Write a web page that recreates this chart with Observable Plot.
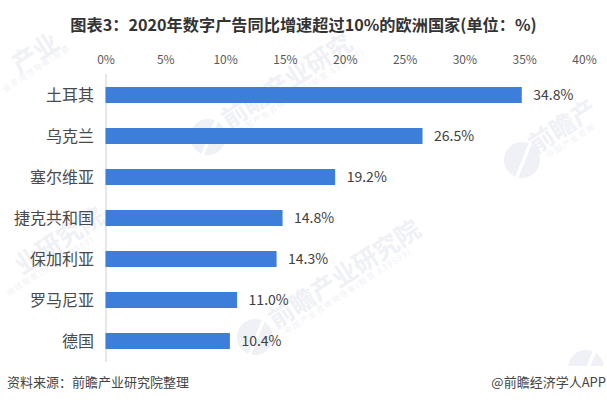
<!DOCTYPE html>
<html><head><meta charset="utf-8">
<script src="https://cdn.jsdelivr.net/npm/d3@7"></script>
<script src="https://cdn.jsdelivr.net/npm/@observablehq/plot@0.6"></script>
<style>
html,body{margin:0;padding:0;background:#fff}
#page{position:relative;width:607px;height:403px;overflow:hidden;font-family:"Noto Sans CJK SC",sans-serif}
#title{position:absolute;left:0;top:13px;width:607px;text-align:center;font-size:16.2px;line-height:22px;font-weight:700;color:#333;white-space:nowrap}
#chart{position:absolute;left:0;top:40px}
#band{position:absolute;left:0;top:366px;width:607px;height:37px;background:#fff}
#source,#brand{position:absolute;top:373px;font-size:13px;line-height:18px;color:#444}
#source{left:7px}
#brand{right:1px}
.wm,.wms{position:absolute;transform:rotate(-33deg);transform-origin:left center;white-space:nowrap}
.wm{font-size:25px;line-height:26px;font-weight:700;color:#eff1f6}
.wms{font-size:8px;line-height:10px;letter-spacing:1.4px;color:#f0f2f6}
.logo{position:absolute;width:36px;height:36px;border-radius:50%;background:linear-gradient(112deg,#eff1f6 50%,#fff 50%,#fff 57%,#eff1f6 57%)}
svg{position:relative;background:transparent!important}
</style></head><body>
<div id="page">
<div class="logo" style="left:237px;top:319px"></div>
<div class="logo" style="left:504px;top:142px"></div>
<div class="logo" style="left:190px;top:119px"></div>
<div class="logo" style="left:568px;top:350px"></div>
<div class="wm" style="left:270px;top:307px">前瞻产业研究院</div>
<div class="wm" style="left:530px;top:132px">前瞻产</div>
<div class="wm" style="left:223px;top:107px">前瞻产业研究</div>
<div class="wm" style="left:16px;top:253px">业研究院</div>
<div class="wm" style="left:13px;top:52px">产业</div>
<div class="wms" style="left:285px;top:327px">中国产业咨询领导者(股票 839599)</div>
<div class="wms" style="left:547px;top:151px">中国产业咨询</div>
<div class="wms" style="left:238px;top:127px">中国产业咨询领导者(股票 839599)</div>
<div class="wms" style="left:7px;top:289px">询领导者(股票 839599)</div>
<div class="wms" style="left:3px;top:85px">业咨询领导者(股票</div>
<div id="title">图表3：2020年数字广告同比增速超过10%的欧洲国家(单位：%)</div>
<div id="chart"></div>
<div id="band"></div>
<div id="source">资料来源：前瞻产业研究院整理</div>
<div id="brand">@前瞻经济学人APP</div>
</div>
<script>
const countries = ["土耳其","乌克兰","塞尔维亚","捷克共和国","保加利亚","罗马尼亚","德国"];
const growth = [34.8,26.5,19.2,14.8,14.3,11.0,10.4];
const xTicks = [0,5,10,15,20,25,30,35,40];
const rows = countries.map((country,i)=>({country,value:growth[i]}));
const svg = Plot.plot({
  width:607,height:330,
  marginLeft:105.5,marginRight:23,marginTop:34,marginBottom:8,
  style:{background:"transparent",fontFamily:'"Noto Sans CJK SC",sans-serif'},
  x:{domain:[0,40],axis:null},
  y:{domain:countries,axis:null,paddingInner:0.6,paddingOuter:0.3},
  marks:[
    Plot.axisX({anchor:"top",ticks:xTicks,tickSize:0,tickPadding:11,tickFormat:d=>d+"%",fontSize:12,color:"#595959",label:null}),
    Plot.axisY({anchor:"left",tickSize:0,tickPadding:12,fontSize:16,color:"#4a4a4a",label:null}),
    Plot.ruleX([0],{stroke:"#d0d0d0",strokeWidth:1}),
    Plot.barX(rows,{x:"value",y:"country",fill:"#3e7edb"}),
    Plot.text(rows,{x:"value",y:"country",text:d=>d.value.toFixed(1)+"%",textAnchor:"start",dx:11,fontSize:14,fill:"#404040"})
  ]
});
document.getElementById("chart").append(svg);
</script>
</body></html>
